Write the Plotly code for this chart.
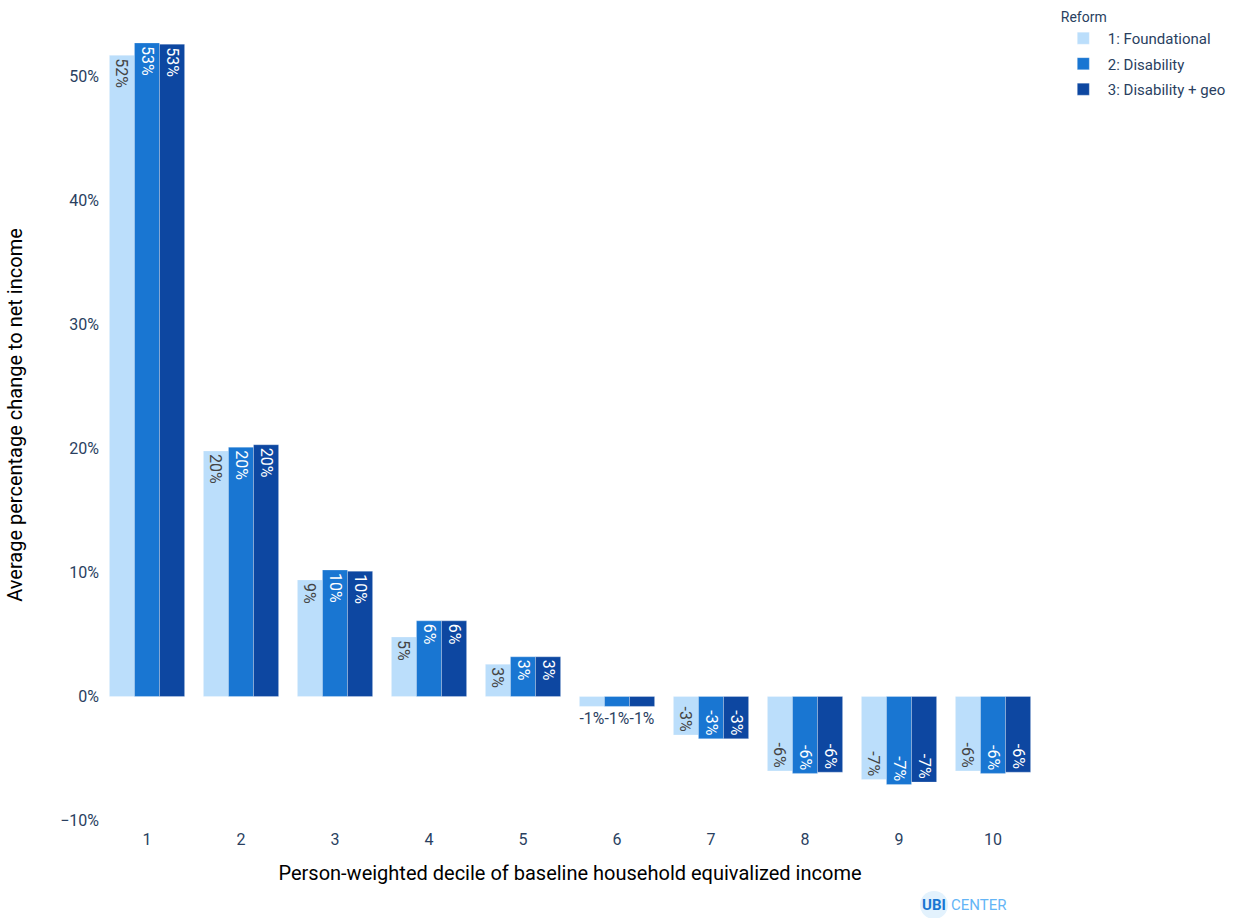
import plotly.graph_objects as go

deciles = ["1", "2", "3", "4", "5", "6", "7", "8", "9", "10"]
reform_names = ["1: Foundational", "2: Disability", "3: Disability + geo"]
foundational = [0.517, 0.198, 0.094, 0.048, 0.026, -0.008, -0.031, -0.060, -0.067, -0.060]
disability = [0.527, 0.201, 0.102, 0.061, 0.032, -0.008, -0.034, -0.062, -0.071, -0.062]
disability_geo = [0.526, 0.203, 0.101, 0.061, 0.032, -0.008, -0.034, -0.061, -0.069, -0.061]
colors = ["#BBDEFB", "#1976D2", "#0D47A1"]

series = [foundational, disability, disability_geo]

fig = go.Figure()
for i, (name, vals, col) in enumerate(zip(reform_names, series, colors)):
    fig.add_trace(go.Bar(
        x=deciles, y=vals, name=name, legendgroup=f"g{i}",
        marker=dict(color=col, line=dict(color="rgba(255,255,255,0.5)", width=0.5)),
        text=[f"{round(v*100):d}%" for v in vals],
        textposition="auto",
        textfont=dict(size=16),
    ))

fig.update_layout(
    barmode="group",
    bargap=0.2,
    bargroupgap=0,
    template="plotly_white",
    width=1234, height=918,
    font=dict(family="Roboto", size=14, color="#2a3f5f"),
    margin=dict(l=100, r=194, t=7, b=95, autoexpand=False),
    legend=dict(title=dict(text="Reform", font=dict(size=14)), font=dict(size=15),
                itemwidth=39, tracegroupgap=3, y=1.004, yanchor="top"),
    xaxis=dict(
        title=dict(text="Person-weighted decile of baseline household equivalized income",
                   font=dict(size=20, color="black"), standoff=17),
        showgrid=False, zeroline=False, tickfont=dict(size=16), automargin=False,
        ticks="outside", ticklen=2, tickcolor="rgba(0,0,0,0)",
    ),
    yaxis=dict(
        title=dict(text="Average percentage change to net income", font=dict(size=20, color="black"),
                   standoff=32),
        tickformat=".0%", showgrid=False, zeroline=False, tickfont=dict(size=16),
        dtick=0.1, automargin=False, range=[-0.102, 0.556],
    ),
)

fig.add_shape(type="circle", xref="paper", yref="paper",
              x0=(920 - 100) / 940, x1=(948 - 100) / 940,
              y0=(823 - 919) / 816, y1=(823 - 891) / 816,
              fillcolor="#E3F2FD", line=dict(width=0), layer="below")
fig.add_annotation(xref="paper", yref="paper", x=(920 - 100) / 940, y=(823 - 905) / 816,
                   xanchor="left", yanchor="middle", showarrow=False,
                   text="<b>UBI</b>", font=dict(size=15, color="#1976D2"))
fig.add_annotation(xref="paper", yref="paper", x=(949 - 100) / 940, y=(823 - 905) / 816,
                   xanchor="left", yanchor="middle", showarrow=False,
                   text="CENTER", font=dict(size=15, color="#64B5F6"))

fig.write_html("out.html", config={"displayModeBar": False},
               post_script="document.body.style.margin='0';")
